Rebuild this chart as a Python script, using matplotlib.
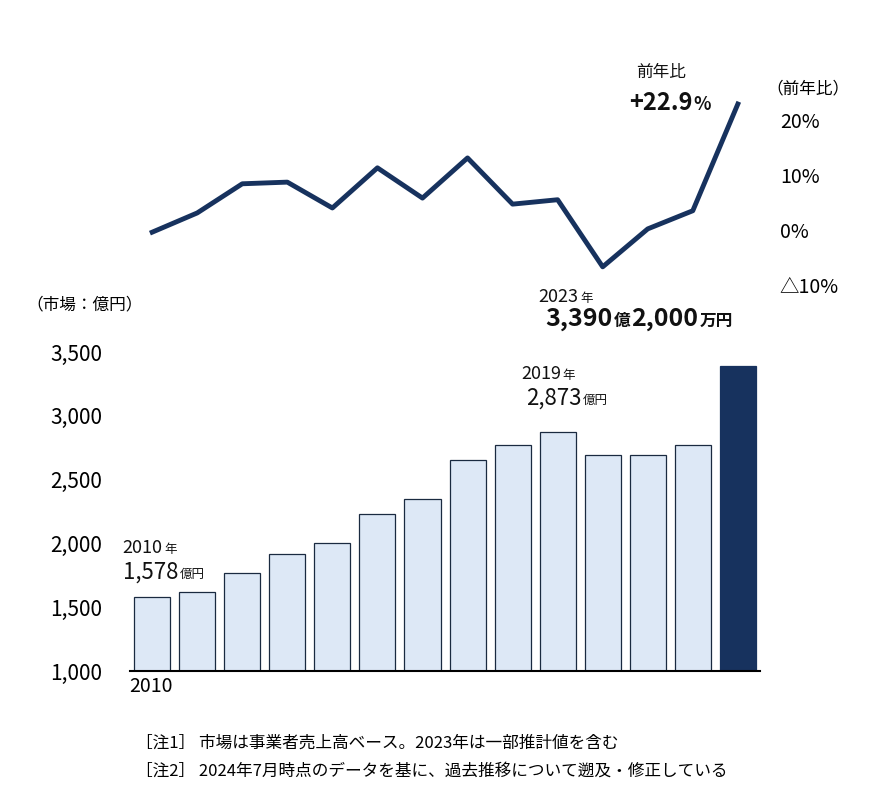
import numpy as np
import matplotlib
matplotlib.use("Agg")
import matplotlib.pyplot as plt
from matplotlib.offsetbox import TextArea, HPacker, AnnotationBbox

plt.rcParams["font.family"] = "Noto Sans CJK JP"

# data
years = list(range(2010, 2024))
market = [1578, 1620, 1770, 1920, 2000, 2230, 2350, 2650, 2770, 2873, 2690, 2690, 2770, 3392]
yoy = [-0.4, 3.1, 8.4, 8.7, 4.0, 11.3, 5.8, 13.1, 4.7, 5.5, -6.7, 0.2, 3.5, 22.9]
y_ticks = [1000, 1500, 2000, 2500, 3000, 3500]
yoy_ticks = [-10, 0, 10, 20]
yoy_labels = ["△10%", "0%", "10%", "20%"]

navy = "#17325e"
light = "#dde8f6"
x = np.arange(len(years))


def label(fig, xf, yf, parts, align=(0, 0.5)):
    # parts: list of (text, size, weight) packed along a common baseline
    boxes = [TextArea(t, textprops=dict(fontsize=s, fontweight=w, color="#111111"))
             for t, s, w in parts]
    pack = HPacker(children=boxes, align="baseline", pad=0, sep=1)
    ab = AnnotationBbox(pack, (xf, yf), xycoords="figure fraction",
                        box_alignment=align, frameon=False, pad=0)
    fig.add_artist(ab)


fig = plt.figure(figsize=(8.76, 7.91), dpi=100)

# bars
ax = fig.add_axes([0.148, 0.1517, 0.72, 0.4033])
colors = [light] * (len(years) - 1) + [navy]
edges = ["#1a2a40"] * (len(years) - 1) + [navy]
ax.bar(x, market, width=0.8, color=colors, edgecolor=edges, linewidth=0.9)
ax.set_ylim(1000, 3500)
ax.set_xlim(-0.5, 13.5)
ax.set_yticks(y_ticks)
ax.set_yticklabels([f"{v:,}" for v in y_ticks], fontsize=15)
ax.tick_params(axis="y", length=0, pad=20)
ax.set_xticks([])
for s in ["top", "right", "left"]:
    ax.spines[s].set_visible(False)
ax.spines["bottom"].set_linewidth(1.5)
ax.text(-0.5, 880, "2010", fontsize=14, ha="left", va="center")
fig.text(0.03, 0.615, "（市場：億円）", fontsize=12, ha="left", va="center")

label(fig, 0.14, 0.307, [("2010", 13, "normal"), ("年", 9, "normal")])
label(fig, 0.14, 0.277, [("1,578", 16, "normal"), ("億円", 9, "normal")])
label(fig, 0.595, 0.527, [("2019", 13, "normal"), ("年", 9, "normal")])
label(fig, 0.6, 0.497, [("2,873", 16, "normal"), ("億円", 9, "normal")])

# yoy line
ax2 = fig.add_axes([0.148, 0.6397, 0.72, 0.2434])
ax2.plot(x, yoy, color=navy, linewidth=3.5)
ax2.set_ylim(-10, 25)
ax2.set_xlim(-0.5, 13.5)
ax2.set_xticks([])
ax2.yaxis.tick_right()
ax2.set_yticks(yoy_ticks)
ax2.set_yticklabels(yoy_labels, fontsize=14)
ax2.tick_params(axis="y", length=0, pad=14)
for s in ax2.spines.values():
    s.set_visible(False)
fig.text(0.875, 0.888, "（前年比）", fontsize=12, ha="left", va="center")
label(fig, 0.755, 0.908, [("前年比", 12, "normal")], align=(0.5, 0.5))
label(fig, 0.765, 0.87, [("+22.9", 17, "bold"), ("%", 13, "bold")], align=(0.5, 0.5))

label(fig, 0.615, 0.625, [("2023", 13, "normal"), ("年", 9, "normal")])
label(fig, 0.622, 0.597, [("3,390", 18, "bold"), ("億", 12, "bold"),
                          ("2,000", 18, "bold"), ("万円", 12, "bold")])

fig.text(0.155, 0.06, "［注1］ 市場は事業者売上高ベース。2023年は一部推計値を含む", fontsize=12, ha="left", va="center")
fig.text(0.155, 0.025, "［注2］ 2024年7月時点のデータを基に、過去推移について遡及・修正している", fontsize=12, ha="left", va="center")

fig.savefig("out.png", dpi=100)
